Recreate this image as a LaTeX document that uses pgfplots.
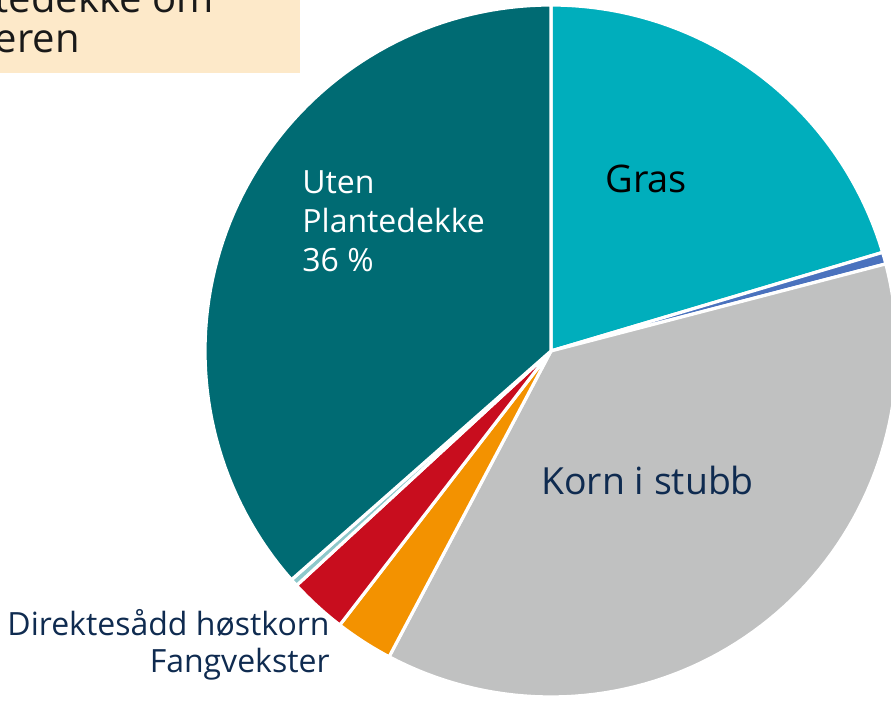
\documentclass[border=0pt]{standalone}
\usepackage{pgfplots}
\pgfplotsset{compat=1.18}
\usepackage{fontspec}
\setmainfont{Open Sans}
\definecolor{cGras}{HTML}{00AEBC}
\definecolor{cBlue}{HTML}{4A72BE}
\definecolor{cKorn}{HTML}{C0C1C1}
\definecolor{cOrange}{HTML}{F39200}
\definecolor{cRed}{HTML}{C80D1E}
\definecolor{cLight}{HTML}{8DC8CB}
\definecolor{cUten}{HTML}{006B73}
\definecolor{cBox}{HTML}{FDE9C9}
\definecolor{cNavy}{HTML}{0F2B50}
\begin{document}
\begin{tikzpicture}
\path[use as bounding box, clip] (0,0) rectangle (445.5pt,350.5pt);
\begin{axis}[anchor=south west, at={(0,0)}, x=0.5pt, y=0.5pt,
  xmin=0, xmax=891, ymin=0, ymax=701, hide axis, clip=false]
\def\cum{0}
% slice shares in percent, clockwise from 12 o'clock
\pgfplotsforeachungrouped \val/\col in {20.4/cGras, 0.55/cBlue, 36.8/cKorn, 2.7/cOrange, 2.7/cRed, 0.35/cLight, 36.5/cUten}{%
  \pgfmathsetmacro\aStart{90-3.6*\cum}%
  \pgfmathsetmacro\cum{\cum+\val}%
  \pgfmathsetmacro\aEnd{90-3.6*\cum}%
  \edef\doplot{\noexpand\addplot[fill=\col, draw=white, line width=1.6pt, line join=round, domain=\aEnd:\aStart, samples=80, variable=\noexpand\t] ({551+346*cos(\noexpand\t)},{350+346*sin(\noexpand\t)}) -- (axis cs:551,350) -- cycle;}%
  \doplot
}
\fill[cBox] (axis cs:-10,628) rectangle (axis cs:300,711);
\node[anchor=base east, inner sep=0pt, text=black!90] at (axis cs:214,688) {\fontsize{20}{22}\selectfont Andel plantedekke om};
\node[anchor=base east, inner sep=0pt, text=black!90] at (axis cs:80,648) {\fontsize{20}{22}\selectfont vinteren};
\node[anchor=base west, inner sep=0pt, text=black] at (axis cs:605,508) {\fontsize{19}{21}\selectfont Gras};
\node[anchor=base west, inner sep=0pt, text=cNavy] at (axis cs:541,206) {\fontsize{18.7}{21}\selectfont Korn i stubb};
\node[anchor=base west, inner sep=0pt, text=white] at (axis cs:302,507) {\fontsize{16}{18}\selectfont Uten};
\node[anchor=base west, inner sep=0pt, text=white] at (axis cs:302,468) {\fontsize{16}{18}\selectfont Plantedekke};
\node[anchor=base west, inner sep=0pt, text=white] at (axis cs:302,429) {\fontsize{16}{18}\selectfont 36 \%};
\node[anchor=base east, inner sep=0pt, text=cNavy] at (axis cs:330,65) {\fontsize{16}{18}\selectfont Direktesådd høstkorn};
\node[anchor=base east, inner sep=0pt, text=cNavy] at (axis cs:330,28) {\fontsize{16}{18}\selectfont Fangvekster};
\end{axis}
\end{tikzpicture}
\end{document}
